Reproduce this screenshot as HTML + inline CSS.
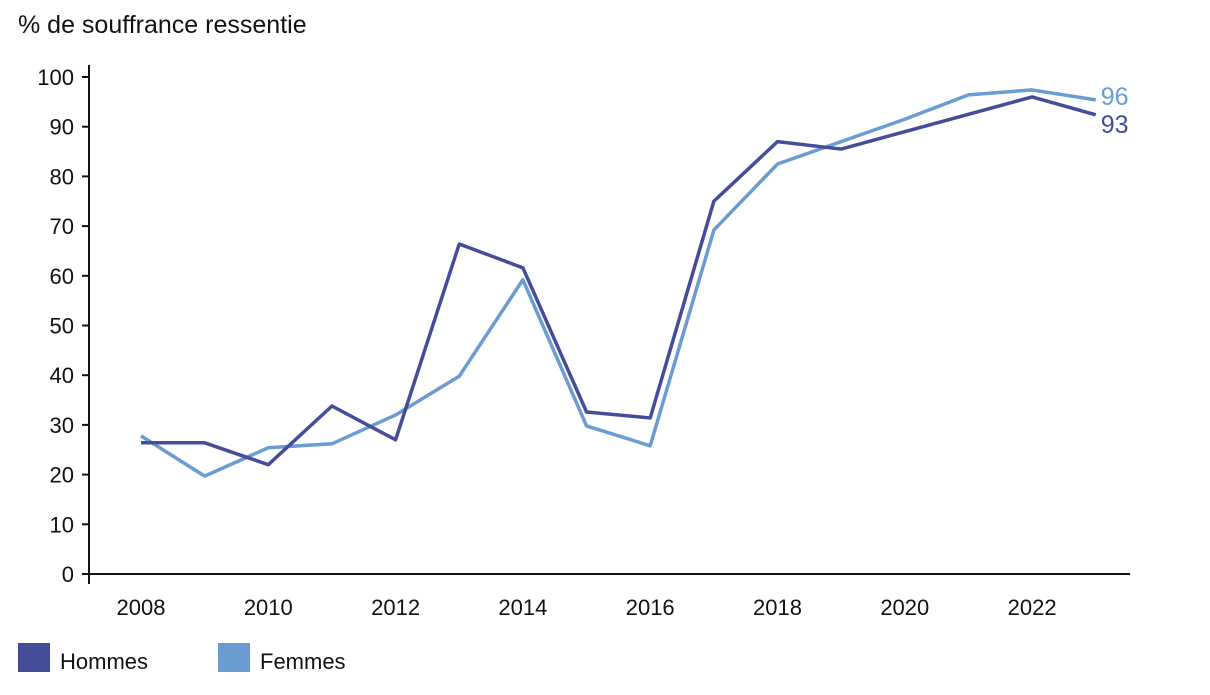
<!DOCTYPE html>
<html><head><meta charset="utf-8"><style>
body{margin:0;background:#fff;width:1210px;height:690px;overflow:hidden;font-family:"Liberation Sans",sans-serif}
</style></head><body>
<svg id="chart" width="1210" height="690" viewBox="0 0 1210 690" xmlns="http://www.w3.org/2000/svg" font-family="Liberation Sans, sans-serif">
<text x="18" y="33" font-size="25" fill="#111">% de souffrance ressentie</text>
<g id="axes"></g>
<g id="series"></g>
<g>
<rect x="18" y="643" width="32" height="29" fill="#454c9a"/>
<text x="60" y="669" font-size="22" fill="#111">Hommes</text>
<rect x="218" y="643" width="32" height="29" fill="#6a9bd1"/>
<text x="260" y="669" font-size="22" fill="#111">Femmes</text>
</g>
</svg>
<script>
const years=[2008,2009,2010,2011,2012,2013,2014,2015,2016,2017,2018,2019,2020,2021,2022,2023];
const hommes=[26.4,26.4,22,33.8,27,66.4,61.6,32.6,31.4,75,87,85.5,89,92.5,96,92.4];
const femmes=[27.8,19.7,25.4,26.2,32,39.8,59.2,29.8,25.8,69.2,82.5,87,91.5,96.4,97.4,95.4];
const yTicks=[0,10,20,30,40,50,60,70,80,90,100];
const xTicks=[2008,2010,2012,2014,2016,2018,2020,2022];
const endLabels=["93","96"];
const NS="http://www.w3.org/2000/svg";
const X=y=>141+(y-2008)*63.65;
const Y=v=>574-v*4.97;
function mk(t,a,p){const e=document.createElementNS(NS,t);for(const k in a)e.setAttribute(k,a[k]);p.appendChild(e);return e;}
const ax=document.getElementById('axes');
let l=mk('line',{x1:89,y1:65,x2:89,y2:584,stroke:'#111','stroke-width':2},ax);


l=mk('line',{x1:82,y1:574,x2:1130,y2:574,stroke:'#111','stroke-width':2},ax);


yTicks.forEach(v=>{
 const t=mk('line',{x1:82,y1:Y(v),x2:89,y2:Y(v),stroke:'#111','stroke-width':2},ax);
 
 
 const tx=mk('text',{x:74,y:Y(v)+8,'font-size':22,'text-anchor':'end',fill:'#111'},ax);
 
 
 tx.textContent=v;
});
xTicks.forEach(v=>{
 const tx=mk('text',{x:X(v),y:615,'font-size':22,'text-anchor':'middle',fill:'#111'},ax);
 
 
 tx.textContent=v;
});
const sg=document.getElementById('series');
function line(vals,col,name){
 const p=mk('polyline',{points:vals.map((v,i)=>X(years[i])+','+Y(v)).join(' '),fill:'none',stroke:col,'stroke-width':3.5,'stroke-linejoin':'round'},sg);
 
 
}
line(femmes,'#6a9bd1','line-femmes');
line(hommes,'#454c9a','line-hommes');
const n=years.length-1;
let e=mk('text',{x:X(years[n])+5,y:Y(hommes[n])+18,'font-size':25,fill:'#454c9a'},sg);


e.textContent=endLabels[0];
e=mk('text',{x:X(years[n])+5,y:Y(femmes[n])+5,'font-size':25,fill:'#6a9bd1'},sg);


e.textContent=endLabels[1];
</script>
</body></html>
